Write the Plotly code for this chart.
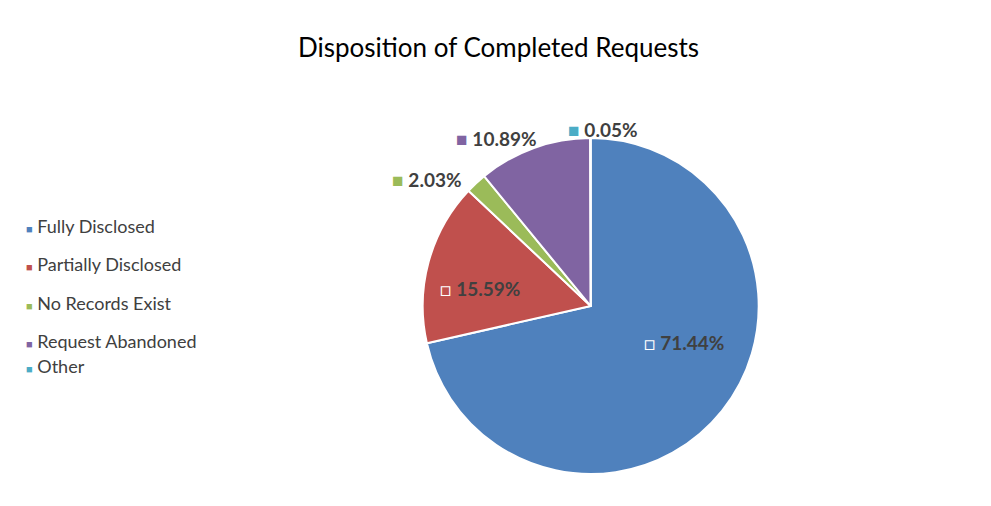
import plotly.graph_objects as go

labels = ["Fully Disclosed", "Partially Disclosed", "No Records Exist", "Request Abandoned", "Other"]
values = [71.44, 15.59, 2.03, 10.89, 0.05]
colors = ["#4F81BD", "#C0504D", "#9BBB59", "#8064A2", "#4BACC6"]

W, H = 991, 506
font = "Lato, 'Open Sans', sans-serif"

fig = go.Figure(go.Pie(
    labels=labels, values=values, sort=False, direction="clockwise", rotation=0,
    marker=dict(colors=colors, line=dict(color="white", width=2)),
    textinfo="none", hoverinfo="label+percent", showlegend=False,
    domain=dict(x=[0.418, 0.758], y=[0.079, 0.743]),
))

# data labels: (index, x px, y px, inside)
label_pos = [(0, 634, 348, True), (1, 430, 280, True), (2, 382, 158, False),
             (3, 446, 117, False), (4, 558, 108, False)]
for i, px, py, inside in label_pos:
    sq = "<span style='color:white'>□</span>" if inside else f"<span style='color:{colors[i]}'>■</span>"
    fig.add_annotation(x=px / W, y=1 - py / H, xref="paper", yref="paper", xanchor="left",
                       showarrow=False, text=f"{sq} <b>{values[i]:.2f}%</b>",
                       font=dict(family=font, size=19, color="#404040"))

# legend drawn as annotations to match spacing
for k, name in enumerate(labels):
    py = 218 + k * 38.3
    fig.add_annotation(x=16 / W, y=1 - py / H, xref="paper", yref="paper", xanchor="left",
                       showarrow=False,
                       text=f"<span style='color:{colors[k]};font-size:11px'>■</span> {name}",
                       font=dict(family=font, size=18, color="#404040"))

fig.update_layout(
    width=W, height=H, margin=dict(l=0, r=0, t=0, b=0),
    paper_bgcolor="white", plot_bgcolor="white",
    title=dict(text="Disposition of Completed Requests", x=0.495, xanchor="center",
               y=1 - 40 / H, yanchor="middle", font=dict(family=font, size=26, color="black")),
)

fig.write_html("out.html")
